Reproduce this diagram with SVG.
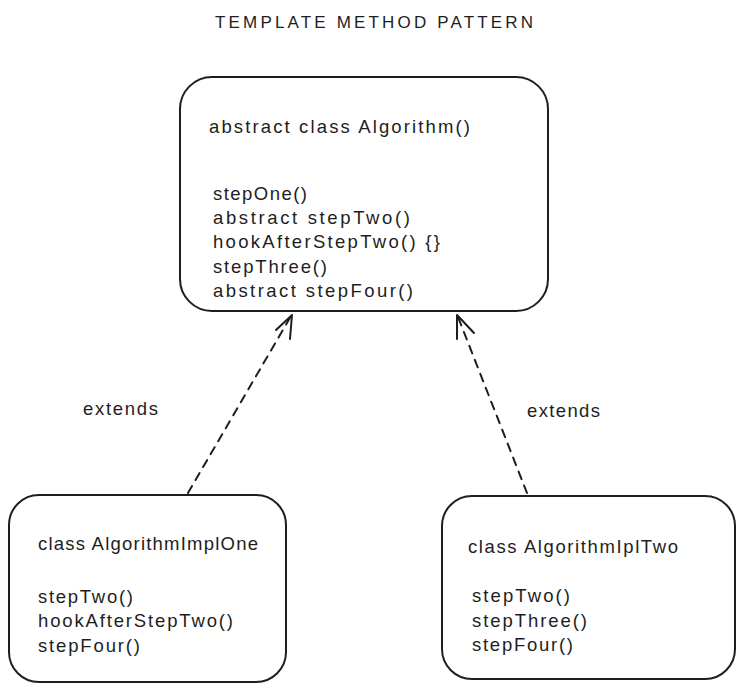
<svg xmlns="http://www.w3.org/2000/svg" width="747" height="692" viewBox="0 0 747 692">
<style>
  .box { fill: #ffffff; stroke: #1e1e1e; stroke-width: 2; }
  .t { font-family: "Liberation Sans", "DejaVu Sans", sans-serif; font-size: 18.5px; fill: #1e1e1e; }
  .title { font-family: "Liberation Sans", "DejaVu Sans", sans-serif; font-size: 17px; fill: #1e1e1e; }
  .dash { fill: none; stroke: #1e1e1e; stroke-width: 2; stroke-dasharray: 8 7; stroke-linecap: round; }
  .head { fill: none; stroke: #1e1e1e; stroke-width: 2; stroke-linecap: round; stroke-linejoin: round; }
</style>
<rect width="747" height="692" fill="#ffffff"/>
<text class="title" x="215" y="28" textLength="318">TEMPLATE METHOD PATTERN</text>

<g id="connectors">
  <path class="dash" d="M188 493 L291 316"/>
  <path class="head" d="M276 330 L292 315 L290 339"/>
  <path class="dash" d="M527 493 L458 317"/>
  <path class="head" d="M457 339 L457 315 L474 333"/>
  <text class="t" x="83" y="415" textLength="75">extends</text>
  <text class="t" x="527" y="417" textLength="73">extends</text>
</g>

<g id="algorithm">
  <rect class="box" x="180" y="77" width="368" height="234" rx="32"/>
  <text class="t" x="209" y="133" textLength="261">abstract class Algorithm()</text>
  <text class="t" x="213" y="200" textLength="94">stepOne()</text>
  <text class="t" x="213" y="224" textLength="197">abstract stepTwo()</text>
  <text class="t" x="213" y="248" textLength="227">hookAfterStepTwo() {}</text>
  <text class="t" x="213" y="273" textLength="114">stepThree()</text>
  <text class="t" x="213" y="297" textLength="200">abstract stepFour()</text>
</g>

<g id="impl-one">
  <rect class="box" x="9" y="495" width="277" height="187" rx="30"/>
  <text class="t" x="38" y="550" textLength="220">class AlgorithmImplOne</text>
  <text class="t" x="38" y="603" textLength="95">stepTwo()</text>
  <text class="t" x="38" y="627" textLength="195">hookAfterStepTwo()</text>
  <text class="t" x="38" y="652" textLength="102">stepFour()</text>
</g>

<g id="impl-two">
  <rect class="box" x="442" y="496" width="293" height="183" rx="30"/>
  <text class="t" x="468" y="553" textLength="210">class AlgorithmIplTwo</text>
  <text class="t" x="472" y="602" textLength="98">stepTwo()</text>
  <text class="t" x="472" y="627" textLength="115">stepThree()</text>
  <text class="t" x="472" y="651" textLength="101">stepFour()</text>
</g>
</svg>
